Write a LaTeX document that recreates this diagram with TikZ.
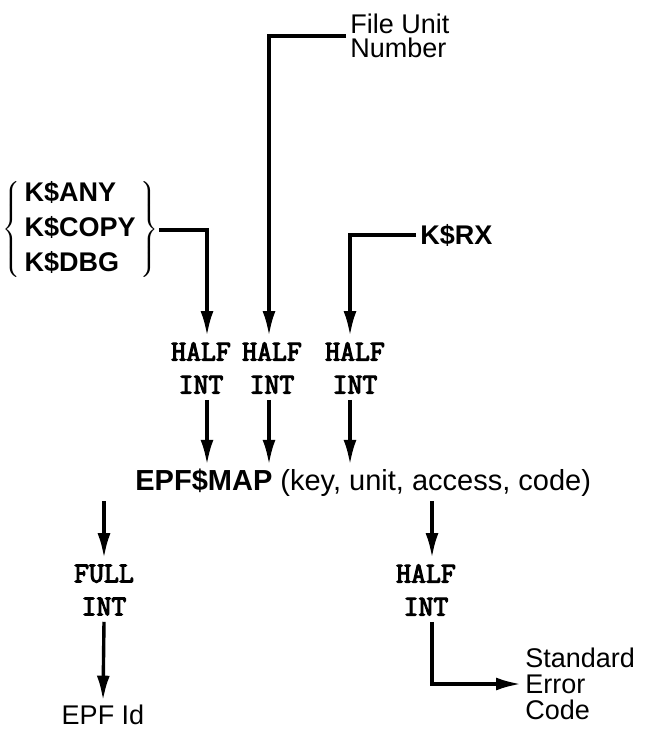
\documentclass[tikz,border=0pt]{standalone}
\usepackage{fontspec}
\setmainfont{Liberation Sans}
\newfontfamily\halffont[FakeBold=3.5]{Latin Modern Mono}
\usetikzlibrary{arrows.meta,positioning}

\begin{document}
\begin{tikzpicture}[x=0.5pt,y=-0.5pt,
    block_sans/.style ={rectangle, draw=none, align=left, inner sep=2pt,
      font={\fontsize{13.5pt}{12pt}\selectfont}},
    block_mono/.style ={rectangle, draw=none, align=center, inner sep=3pt,
      font={\halffont\fontsize{14.5pt}{16.5pt}\selectfont}},
    paths2/.style={black, draw, line width=1.7pt,
      arrows={-Latex[length=12.5pt, width=6.5pt]}}]
  \useasboundingbox (0,0) rectangle (645,732);
  % inputs
  \node[block_sans, anchor=west] (fileunit) at (346,36) {File Unit\\Number};
  \node[block_sans, anchor=west, inner sep=0.5pt, font={\bfseries\fontsize{13.5pt}{17.5pt}\selectfont}] (kset) at (1,230)
    {$\left\{\begin{tabular}{@{\,}l@{\,}}K\$ANY\\K\$COPY\\K\$DBG\end{tabular}\right\}$};
  \node[block_sans, anchor=west, font={\bfseries\fontsize{13.5pt}{15pt}\selectfont}] (krx) at (416,235) {K\$RX};
  % argument types
  \node[block_mono] (half1) at (201,368) {HALF\\INT};
  \node[block_mono] (half2) at (272,368) {HALF\\INT};
  \node[block_mono] (half3) at (355,368) {HALF\\INT};
  % the call
  \node[block_sans, anchor=west, font={\fontsize{14.5pt}{15pt}\selectfont}] (epfmap) at (131,483)
    {\textbf{EPF\$MAP} (key, unit, access, code)};
  % results
  \node[block_mono] (full) at (104,590) {FULL\\INT};
  \node[block_mono] (half4) at (426,590) {HALF\\INT};
  \node[block_sans] (epfid) at (103,715) {EPF Id};
  \node[block_sans, anchor=west, font={\fontsize{13.5pt}{13pt}\selectfont}] (stderr) at (521,684) {Standard\\Error\\Code};
  % connecting nodes with paths
  \begin{scope}[every path/.style=paths2]
    \path (fileunit.west) -| ([xshift=-1.5pt]half2.north);
    \path (kset.east) -| ([xshift=3pt]half1.north);
    \path (krx.west) -| ([xshift=-2.5pt]half3.north);
    \path ([xshift=3pt]half1.south) -- ([xshift=3pt]half1.south |- epfmap.north);
    \path ([xshift=-1.5pt]half2.south) -- ([xshift=-1.5pt]half2.south |- epfmap.north);
    \path ([xshift=-2.5pt]half3.south) -- ([xshift=-2.5pt]half3.south |- epfmap.north);
    \path (full.north |- epfmap.south) -- (full.north);
    \path ([xshift=3pt]half4.north |- epfmap.south) -- ([xshift=3pt]half4.north);
    \path (full.south) -- (epfid.north);
    \path ([xshift=3pt]half4.south) |- (stderr.west);
  \end{scope}
\end{tikzpicture}
\end{document}
